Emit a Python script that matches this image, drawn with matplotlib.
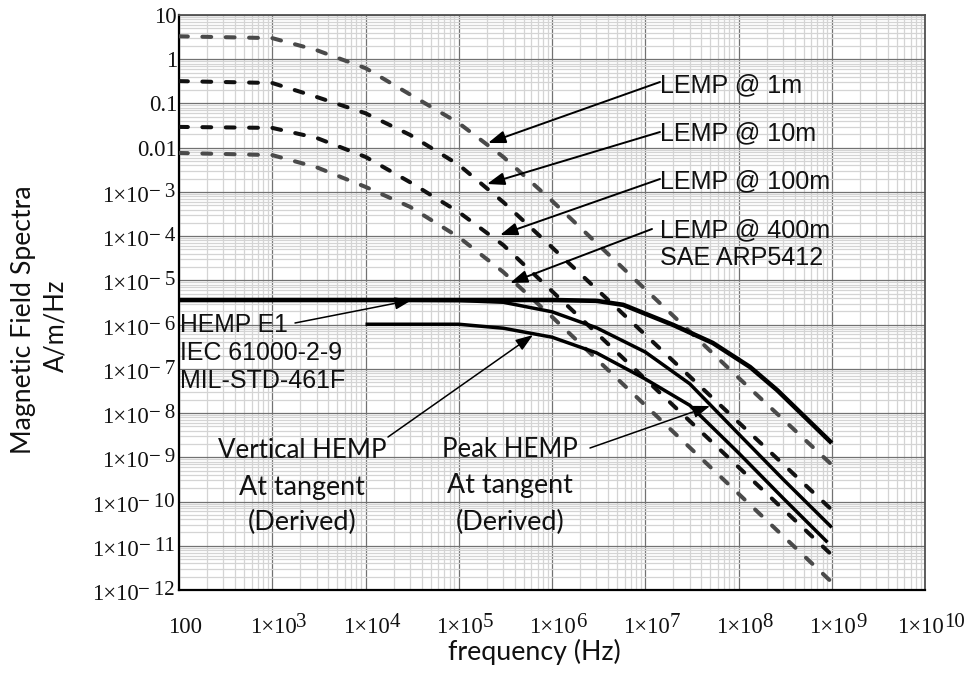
import numpy as np
import matplotlib
matplotlib.use('Agg')
import matplotlib.pyplot as plt
from matplotlib.ticker import LogLocator, FixedLocator, NullFormatter
from matplotlib.transforms import IdentityTransform

# ---------------- data ----------------
freq_lemp = [1e2, 1e3, 3e3, 1e4, 3e4, 1e5, 3e5, 1e6, 1e7, 1e8, 1e9]
lemp_1m   = [3.3, 3.0, 1.6, 0.63, 0.16, 0.036, 6.2e-3, 6.3e-4, 6.3e-6, 6.3e-8, 6.8e-10]
lemp_10m  = [0.32, 0.29, 0.14, 0.06, 0.0195, 0.0041, 5.9e-4, 5.6e-5, 5.9e-7, 6.2e-9, 6.5e-11]
lemp_100m = [0.0295, 0.028, 0.0166, 0.0062, 0.00166, 3.5e-4, 6.3e-5, 5.7e-6, 5.9e-8, 6.0e-10, 6.2e-12]
lemp_400m = [0.0076, 0.0068, 0.0036, 0.0013, 4.6e-4, 9.5e-5, 1.55e-5, 1.5e-6, 1.5e-8, 1.5e-10, 1.5e-12]

freq_e1 = [1e2, 1e6, 3e6, 5.8e6, 2e7, 5.3e7, 1.33e8, 2.6e8, 1e9]
hemp_e1 = [3.6e-6, 3.6e-6, 3.45e-6, 2.8e-6, 9.8e-7, 3.85e-7, 1.1e-7, 3.3e-8, 2.1e-9]

freq_peak = [1e4, 1e5, 3e5, 1e6, 3e6, 1e7, 3e7, 1e8, 3e8, 1e9]
peak_hemp = [3.6e-6, 3.5e-6, 3.2e-6, 1.95e-6, 8.5e-7, 2.4e-7, 4.6e-8, 3.4e-9, 3.2e-10, 2.6e-11]

freq_vert = [1e4, 1e5, 3e5, 1e6, 3e6, 1e7, 3e7, 1e8, 3e8, 9e8]
vert_hemp = [1.02e-6, 1.02e-6, 8.3e-7, 5.2e-7, 2.3e-7, 5.9e-8, 1.5e-8, 1.26e-9, 1.2e-10, 1.2e-11]

x_ticks = [1e2, 1e3, 1e4, 1e5, 1e6, 1e7, 1e8, 1e9, 1e10]
x_tick_main = ['100', '1\u00d710', '1\u00d710', '1\u00d710', '1\u00d710',
               '1\u00d710', '1\u00d710', '1\u00d710', '1\u00d710']
x_tick_exp = ['', '3', '4', '5', '6', '7', '8', '9', '10']

y_ticks = [1e-12, 1e-11, 1e-10, 1e-9, 1e-8, 1e-7, 1e-6, 1e-5, 1e-4, 1e-3, 1e-2, 1e-1, 1, 10]
y_tick_main = ['1\u00d710'] * 10 + ['0.01', '0.1', '1', '10']
y_tick_exp = ['\u2212\u200912', '\u2212\u200911', '\u2212\u200910', '\u2212\u20099',
              '\u2212\u20098', '\u2212\u20097', '\u2212\u20096', '\u2212\u20095',
              '\u2212\u20094', '\u2212\u20093', '', '', '', '']

# ---------------- figure ----------------
W, H = 966, 677
fig = plt.figure(figsize=(W / 100, H / 100), dpi=100)
L, R, T, B = 179, 925, 15, 590
ax = fig.add_axes([L / W, 1 - B / H, (R - L) / W, (B - T) / H])
ax.set_xscale('log')
ax.set_yscale('log')
ax.set_xlim(1e2, 1e10)
ax.set_ylim(1e-12, 10)

ax.xaxis.set_major_locator(FixedLocator(x_ticks))
ax.yaxis.set_major_locator(FixedLocator(y_ticks))
ax.xaxis.set_minor_locator(LogLocator(base=10, subs=np.arange(2, 10), numticks=100))
ax.yaxis.set_minor_locator(LogLocator(base=10, subs=np.arange(2, 10), numticks=100))
ax.xaxis.set_major_formatter(NullFormatter())
ax.yaxis.set_major_formatter(NullFormatter())
ax.xaxis.set_minor_formatter(NullFormatter())
ax.yaxis.set_minor_formatter(NullFormatter())
ax.grid(which='minor', color='#d4d4d4', lw=0.9, zorder=0)
ax.grid(which='major', color='#727272', lw=0.9, zorder=0)
ax.set_axisbelow(True)
ax.tick_params(which='both', length=0)

for s in ['left', 'bottom']:
    ax.spines[s].set_color('black')
    ax.spines[s].set_linewidth(1.6)
for s in ['top', 'right']:
    ax.spines[s].set_color('#505050')
    ax.spines[s].set_linewidth(1.3)

# ---------------- curves ----------------
dash_kw = dict(lw=2.9, dashes=(2.2, 3.6), dash_capstyle='round', zorder=3)
ax.plot(freq_lemp, lemp_1m, color='#4a4a4a', **dash_kw)
ax.plot(freq_lemp, lemp_10m, color='#111111', **dash_kw)
ax.plot(freq_lemp, lemp_100m, color='#111111', **dash_kw)
ax.plot(freq_lemp, lemp_400m, color='#4a4a4a', **dash_kw)

ax.plot(freq_e1, hemp_e1, color='black', lw=3.3, zorder=4, solid_capstyle='butt',
        solid_joinstyle='round')
ax.plot(freq_peak, peak_hemp, color='black', lw=2.5, zorder=4, solid_capstyle='butt',
        solid_joinstyle='round')
ax.plot(freq_vert, vert_hemp, color='black', lw=2.5, zorder=4, solid_capstyle='butt',
        solid_joinstyle='round')

fig.canvas.draw()
renderer = fig.canvas.get_renderer()
ID = IdentityTransform()


def wpx(t):
    return t.get_window_extent(renderer=renderer).width


def ptext(x, y_top, s, **kw):
    """text at pixel position measured from the top-left of the image"""
    return fig.text(x, H - y_top, s, transform=ID, **kw)


def fit(t, target, vertical=False):
    bb = t.get_window_extent(renderer=renderer)
    cur = bb.height if vertical else bb.width
    t.set_fontsize(t.get_fontsize() * target / cur)


# ---------------- tick labels (manual, Mathcad style) ----------------
serif = ['Liberation Serif', 'DejaVu Serif']
MAIN_FS, EXP_FS = 16.5, 15
for tv, m, e in zip(x_ticks, x_tick_main, x_tick_exp):
    xp = ax.transData.transform((tv, 1.0))[0]
    yb = H - 633
    if not e:
        fig.text(xp + 6, yb, m, transform=ID, ha='center', va='baseline',
                 fontfamily=serif, fontsize=MAIN_FS, color='#111111')
        continue
    tm = fig.text(0, yb, m, transform=ID, ha='left', va='baseline',
                  fontfamily=serif, fontsize=MAIN_FS, color='#111111')
    te = fig.text(0, yb + 6, e, transform=ID, ha='left', va='baseline',
                  fontfamily=serif, fontsize=EXP_FS, color='#111111')
    wm, we = wpx(tm), wpx(te)
    left = xp + 6 - (wm + we) / 2
    tm.set_x(left)
    te.set_x(left + wm)

for tv, m, e in zip(y_ticks, y_tick_main, y_tick_exp):
    yp = ax.transData.transform((1e2, tv))[1]
    if not e:
        fig.text(177, yp - 8, m, transform=ID, ha='right', va='baseline',
                 fontfamily=serif, fontsize=MAIN_FS, color='#111111')
        continue
    te = fig.text(175, yp - 5, e, transform=ID, ha='right', va='baseline',
                  fontfamily=serif, fontsize=EXP_FS, color='#111111')
    we = wpx(te)
    fig.text(175 - we, yp - 10, m, transform=ID, ha='right', va='baseline',
             fontfamily=serif, fontsize=MAIN_FS, color='#111111')

# ---------------- annotations ----------------
def arrow(tail, tip, lw=1.4):
    ax.annotate('', xy=(tip[0], H - tip[1]), xycoords='figure pixels',
                xytext=(tail[0], H - tail[1]), textcoords='figure pixels',
                arrowprops=dict(arrowstyle='-|>,head_length=0.7,head_width=0.25',
                                mutation_scale=15, color='black', lw=lw,
                                shrinkA=0, shrinkB=0), zorder=6)


sans = dict(fontfamily='Liberation Sans', fontsize=18, color='#111111',
            ha='left', va='baseline')
fit(ptext(660, 92, 'LEMP @ 1m', **sans), 142)
fit(ptext(660, 140, 'LEMP @ 10m', **sans), 156)
fit(ptext(660, 188, 'LEMP @ 100m', **sans), 170)
fit(ptext(660, 237, 'LEMP @ 400m', **sans), 170)
fit(ptext(660, 265, 'SAE ARP5412', **sans), 163)
arrow((660, 82), (488, 143))
arrow((660, 132), (487, 184))
arrow((660, 179), (500, 235))
arrow((652, 229), (510, 283))

fit(ptext(180, 332, 'HEMP E1', **sans), 108)
fit(ptext(180, 360, 'IEC 61000-2-9', **sans), 162)
fit(ptext(180, 388, 'MIL-STD-461F', **sans), 165)
arrow((295, 323), (412, 300), lw=1.1)

cal = dict(fontfamily='Lato', fontsize=18, color='#111111', ha='center', va='baseline')
fit(ptext(302, 458, 'Vertical HEMP', **cal), 168)
fit(ptext(302, 495, 'At tangent', **cal), 125)
fit(ptext(302, 530, '(Derived)', **cal), 109)
fit(ptext(510, 457, 'Peak HEMP', **cal), 135)
fit(ptext(510, 493, 'At tangent', **cal), 125)
fit(ptext(510, 530, '(Derived)', **cal), 109)
arrow((388, 437), (533, 335), lw=1.1)
arrow((590, 448), (710, 406), lw=1.1)

lab = dict(fontfamily='Lato', fontsize=18, color='#111111')
fit(ptext(24, 320, 'Magnetic Field Spectra', rotation=90, ha='center', va='center', **lab),
    268, vertical=True)
fit(ptext(56, 326, 'A/m/Hz', rotation=90, ha='center', va='center', **lab), 92, vertical=True)
fit(ptext(534, 660, 'frequency (Hz)', ha='center', va='baseline', **lab), 172)

fig.savefig('out.png', dpi=100)
